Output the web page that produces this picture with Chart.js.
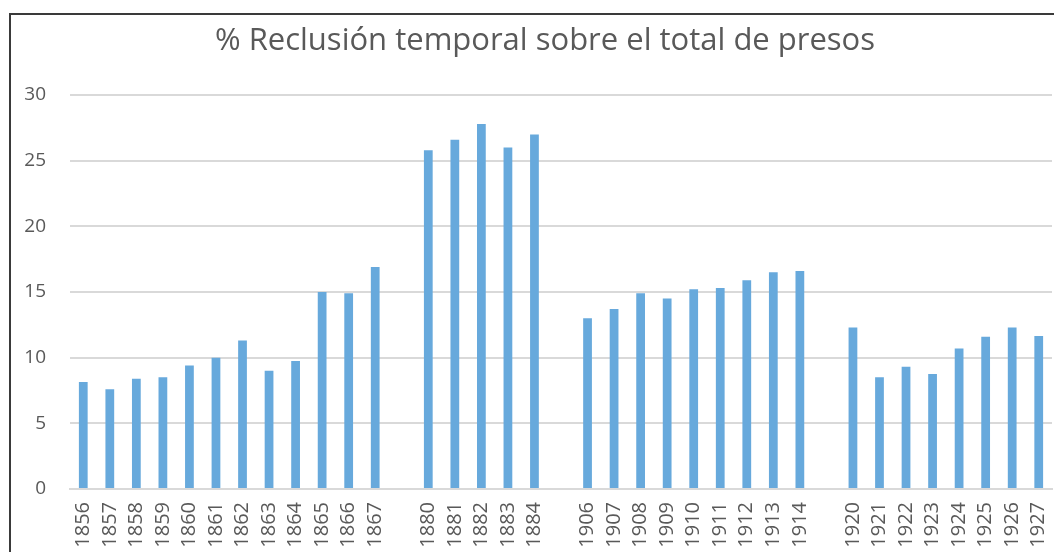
<!DOCTYPE html>
<html>
<head>
<meta charset="utf-8">
<script src="https://cdn.jsdelivr.net/npm/chart.js@4.4.1/dist/chart.umd.min.js"></script>
<style>
  html, body { margin: 0; padding: 0; background: #fff; overflow: hidden; }
  #frame {
    position: absolute; left: 9px; top: 13px;
    border-left: 2px solid #3a3a3a; border-top: 2px solid #3a3a3a;
    width: 1072px; height: 600px;
  }
  canvas { display: block; }
</style>
</head>
<body>
<div id="frame"><canvas id="chart" width="1072" height="600"></canvas></div>
<script>
// years, with an empty slot between the groups
const years = [
  "1856", "1857", "1858", "1859", "1860", "1861", "1862", "1863", "1864", "1865", "1866", "1867",
  "",
  "1880", "1881", "1882", "1883", "1884",
  "",
  "1906", "1907", "1908", "1909", "1910", "1911", "1912", "1913", "1914",
  "",
  "1920", "1921", "1922", "1923", "1924", "1925", "1926", "1927"
];
const pctReclusion = [
  8.15, 7.6, 8.4, 8.5, 9.4, 10.0, 11.3, 9.0, 9.75, 15.0, 14.9, 16.9,
  null,
  25.8, 26.6, 27.8, 26.0, 27.0,
  null,
  13.0, 13.7, 14.9, 14.5, 15.2, 15.3, 15.9, 16.5, 16.6,
  null,
  12.3, 8.5, 9.3, 8.75, 10.7, 11.6, 12.3, 11.65
];
const yTicks = [0, 5, 10, 15, 20, 25, 30];

const textGrey = "#595959";
const fontFam = "'Open Sans', 'Noto Sans', sans-serif";

// title drawn centred on the whole canvas (Excel style), not on the padded box
const canvasTitle = {
  id: "canvasTitle",
  afterDraw(chart) {
    const ctx = chart.ctx;
    ctx.save();
    ctx.fillStyle = textGrey;
    ctx.font = "31px " + fontFam;
    ctx.textAlign = "center";
    ctx.textBaseline = "middle";
    ctx.fillText("% Reclusión temporal sobre el total de presos", chart.width / 2 - 2, 26);
    ctx.restore();
  }
};

new Chart(document.getElementById("chart").getContext("2d"), {
  type: "bar",
  data: {
    labels: years,
    datasets: [{
      label: "% Reclusión temporal",
      data: pctReclusion,
      backgroundColor: "#67a9dc",
      barPercentage: 0.33,
      categoryPercentage: 1.0
    }]
  },
  options: {
    responsive: false,
    animation: false,
    layout: { padding: { top: 80, right: 31, left: 0, bottom: 0 } },
    plugins: {
      legend: { display: false },
      tooltip: { enabled: false },
      title: { display: false }
    },
    scales: {
      x: {
        afterFit: (axis) => { axis.height = 126; },
        grid: { display: false, drawTicks: false },
        border: { display: true, color: "#d9d9d9", width: 2 },
        ticks: {
          color: textGrey,
          font: { family: fontFam, size: 20 },
          minRotation: 90,
          maxRotation: 90,
          autoSkip: false,
          padding: 13
        }
      },
      y: {
        min: 0,
        max: 30,
        afterBuildTicks: (axis) => { axis.ticks = yTicks.map(v => ({ value: v })); },
        afterFit: (axis) => { axis.width = 59; },
        grid: { color: "#d9d9d9", lineWidth: 2, drawTicks: false },
        border: { display: false },
        ticks: {
          color: textGrey,
          font: { family: fontFam, size: 19 },
          padding: 24
        }
      }
    }
  },
  plugins: [canvasTitle]
});
</script>
</body>
</html>
